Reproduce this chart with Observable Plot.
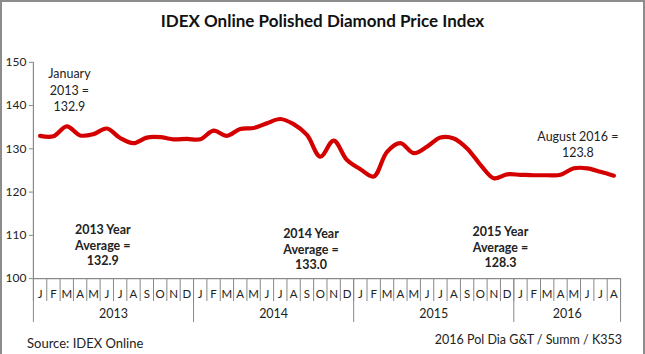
<!DOCTYPE html>
<html>
<head>
<meta charset="utf-8">
<script src="https://cdn.jsdelivr.net/npm/d3@7"></script>
<script src="https://cdn.jsdelivr.net/npm/@observablehq/plot@0.6"></script>
<style>
  html, body { margin: 0; padding: 0; background: #fff; }
  #wrap { position: relative; width: 645px; height: 354px; box-sizing: border-box;
          border: 2px solid #8c8c8c; border-bottom: none; overflow: hidden; font-family: Lato, "Open Sans", sans-serif; }
  #title { position: absolute; left: 0; width: 641px; top: 8px; text-align: center;
           font-weight: bold; font-size: 17px; color: #111; }
  #chart { position: absolute; left: -2px; top: -2px; }
  #source { position: absolute; left: 25px; top: 333px; font-size: 13px; color: #222; }
  #ref { position: absolute; right: 21px; top: 330px; font-size: 12.5px; color: #222; }
</style>
</head>
<body>
<div id="wrap">
  <div id="chart"></div>
  <div id="title">IDEX Online Polished Diamond Price Index</div>
  <div id="source">Source: IDEX Online</div>
  <div id="ref">2016 Pol Dia G&amp;T / Summ / K353</div>
</div>
<script>
const monthLetters = ["J","F","M","A","M","J","J","A","S","O","N","D"];
const years = [2013, 2014, 2015, 2016];
const index2013 = [133.0, 132.9, 135.2, 133.1, 133.4, 134.7, 132.5, 131.3, 132.6, 132.7, 132.2, 132.3];
const index2014 = [132.2, 134.2, 133.0, 134.6, 134.8, 135.9, 136.9, 135.7, 133.2, 128.2, 131.9, 127.4];
const index2015 = [125.3, 123.6, 129.3, 131.3, 129.0, 130.5, 132.6, 132.4, 130.1, 126.3, 123.2, 124.1];
const index2016 = [124.0, 123.9, 123.9, 124.0, 125.5, 125.5, 124.7, 123.8];
const yTicks = [100, 110, 120, 130, 140, 150];

const annotations = [
  {t: 2.7, v: 143.8, label: "January\n2013 =\n132.9", bold: false},
  {t: 5.2, v: 107.8, label: "2013 Year\nAverage =\n132.9", bold: true},
  {t: 20.8, v: 106.9, label: "2014 Year\nAverage =\n133.0", bold: true},
  {t: 35.0, v: 107.4, label: "2015 Year\nAverage =\n128.3", bold: true},
  {t: 40.8, v: 131.2, label: "August 2016 =\n123.8", bold: false}
];

const allSeries = [index2013, index2014, index2015, index2016];
const data = [];
allSeries.forEach((arr, yi) => arr.forEach((v, m) => data.push({t: yi * 12 + m + 0.5, v, year: years[yi], m})));
const nMonths = data.length;
const monthCenters = data.map(d => d.t);
const monthBounds = d3.range(0, nMonths + 1);
const yearBounds = [0, 12, 24, 36, nMonths];
const yearCenters = yearBounds.slice(0, -1).map((b, i) => (b + yearBounds[i + 1]) / 2);

const grey = "#8a8a8a";
const chart = Plot.plot({
  width: 645,
  height: 354,
  marginLeft: 33,
  marginRight: 23,
  marginTop: 62,
  marginBottom: 75,
  style: {fontFamily: "Lato, 'Open Sans', sans-serif", background: "transparent", overflow: "visible"},
  x: {type: "linear", domain: [0, nMonths]},
  y: {domain: [100, 150]},
  marks: [
    Plot.axisY({ticks: yTicks, tickSize: 4, tickPadding: 3, stroke: grey, fill: "#222", fontSize: 12, label: null}),
    Plot.ruleX([0], {stroke: grey, strokeWidth: 1.2}),
    Plot.ruleY([100], {stroke: grey, strokeWidth: 1.2}),
    Plot.axisX({ticks: monthBounds, tickSize: 23, stroke: grey, tickFormat: () => "", label: null}),
    Plot.axisX({ticks: yearBounds, tickSize: 44, stroke: grey, tickFormat: () => "", label: null}),
    Plot.axisX({ticks: monthCenters, tickSize: 0, tickPadding: 11, fill: "#222", fontSize: 11.5,
                tickFormat: (t) => monthLetters[Math.floor(t) % 12], label: null}),
    Plot.axisX({ticks: yearCenters, tickSize: 0, tickPadding: 31, fill: "#222", fontSize: 12.5,
                tickFormat: (t) => String(years[Math.floor(t / 12)]), label: null}),
    Plot.line(data, {x: "t", y: "v", curve: "catmull-rom", stroke: "#d40000", strokeWidth: 4.2, strokeLinejoin: "round", strokeLinecap: "round"}),
    Plot.text(annotations.filter(d => !d.bold), {x: "t", y: "v", text: "label", fontSize: 12.5, fill: "#222", lineHeight: 1.35, textAnchor: "middle"}),
    Plot.text(annotations.filter(d => d.bold), {x: "t", y: "v", text: "label", fontSize: 12.5, fontWeight: "bold", fill: "#222", lineHeight: 1.25, textAnchor: "middle"})
  ]
});
document.getElementById("chart").appendChild(chart);
</script>
</body>
</html>
